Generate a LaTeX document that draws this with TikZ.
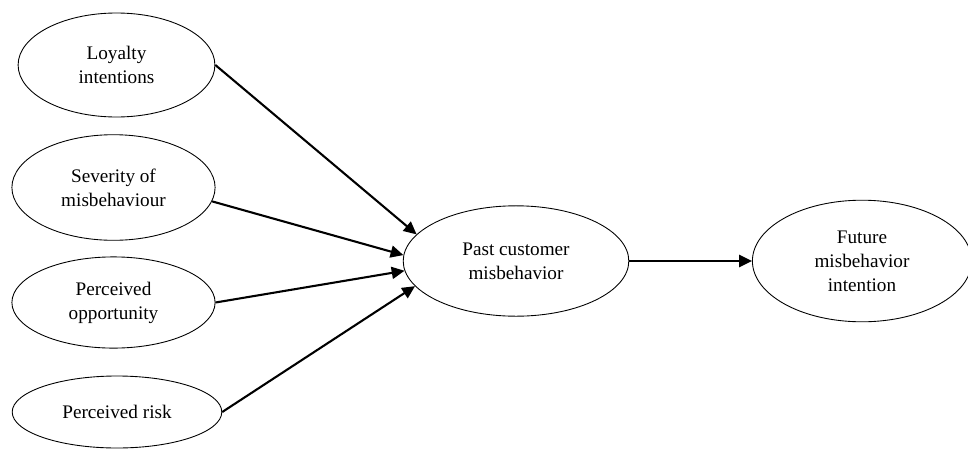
\documentclass[tikz,border=0pt]{standalone}
\usepackage{fontspec}
\setmainfont{Liberation Serif}
\usetikzlibrary{shapes.geometric,arrows.meta}

\begin{document}
\begin{tikzpicture}[x=0.625pt,y=-0.625pt,
    oval/.style={ellipse,draw,line width=0.55pt,inner sep=0pt,align=center,
        font=\fontsize{12}{15}\selectfont},
    link/.style={line width=1.3pt,-{Triangle[length=8pt,width=7.5pt]}}]
    \useasboundingbox (0,0) rectangle (968,450);

    % antecedents
    \node[oval,minimum width=123pt,minimum height=65pt] (loyal) at (116.5,65) {Loyalty\\intentions};
    \node[oval,minimum width=127pt,minimum height=66pt] (sever) at (113.5,187.5) {Severity of\\misbehaviour};
    \node[oval,minimum width=127pt,minimum height=57pt] (oppor) at (113.5,302.5) {Perceived\\opportunity};
    \node[oval,minimum width=131pt,minimum height=45pt] (risk) at (117,412) {Perceived risk};

    % outcomes
    \node[oval,minimum width=141pt,minimum height=69pt] (past) at (516,261) {Past customer\\misbehavior};
    \node[oval,minimum width=137pt,minimum height=76pt] (future) at (862,261) {Future\\misbehavior\\intention};

    \draw[link] (loyal.east) -- (past.165);
    \draw[link] (sever.-8) -- (past.177);
    \draw[link] (oppor.east) -- (past.185);
    \draw[link] (risk.east) -- (past.194);
    \draw[link] (past.east) -- (future.west);
\end{tikzpicture}
\end{document}
